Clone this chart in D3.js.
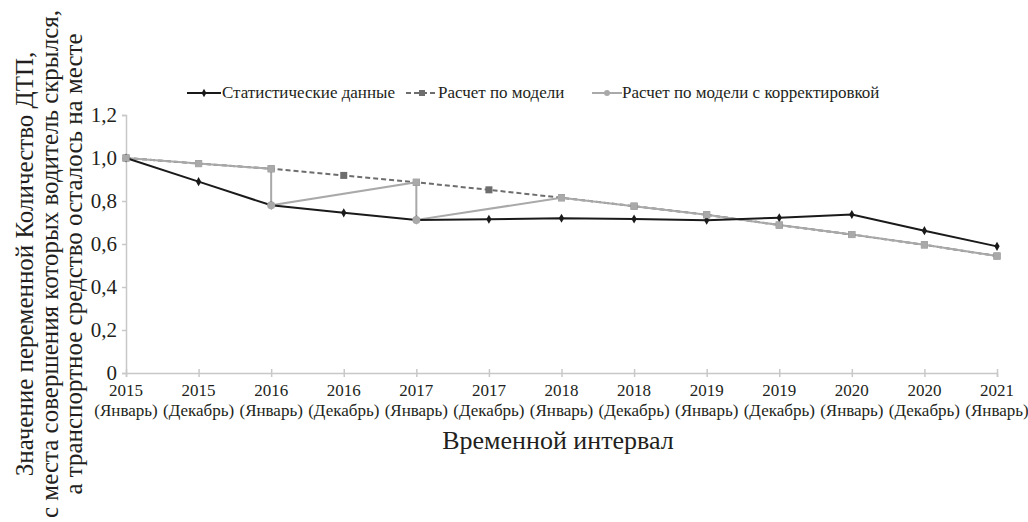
<!DOCTYPE html>
<html><head><meta charset="utf-8">
<script src="https://cdn.jsdelivr.net/npm/d3@7"></script>
<style>body{margin:0;background:#fff}svg{display:block}svg text,svg tspan{font-family:"Liberation Serif","Times New Roman",Tinos,serif}</style>
</head><body><svg id="c" width="1028" height="522" font-family="Liberation Serif"></svg>
<script>
const tickYears = ["2015","2015","2016","2016","2017","2017","2018","2018","2019","2019","2020","2020","2021"];
const tickMonths = ["(Январь)","(Декабрь)","(Январь)","(Декабрь)","(Январь)","(Декабрь)","(Январь)","(Декабрь)","(Январь)","(Декабрь)","(Январь)","(Декабрь)","(Январь)"];
const statValues = [1.0,0.89,0.78,0.745,0.712,0.715,0.72,0.716,0.711,0.722,0.737,0.662,0.589];
const modelValues = [1.0,0.974,0.95,0.919,0.887,0.852,0.815,0.776,0.736,0.688,0.644,0.596,0.544];
const correctedIdx = [0,1,2,2,4,4,6,7,8,9,10,11,12];
const correctedValues = [1.0,0.974,0.95,0.78,0.887,0.712,0.815,0.776,0.736,0.688,0.644,0.596,0.544];
const yTicks = [0,0.2,0.4,0.6,0.8,1.0,1.2];
const seriesNames = ["Статистические данные","Расчет по модели","Расчет по модели с корректировкой"];
const yTitle = ["Значение переменной Количество ДТП,","с места совершения которых водитель скрылся,","а транспортное средство осталось на месте"];
const xTitle = "Временной интервал";

const FONT = '"Liberation Serif","Times New Roman",Tinos,serif';
const TXT = "#231f20";
const svg = d3.select("#c");
const idx = d3.range(tickYears.length);
const x = d3.scalePoint().domain(idx).range([126,997]);
const y = d3.scaleLinear().domain([0,1.2]).range([373,115]);
const axisColor = "#c8c8c8";

// y axis
const ya = svg.append("g").attr("transform","translate(126,0)")
  .call(d3.axisLeft(y).tickValues(yTicks).tickSize(4).tickPadding(5)
  .tickFormat(d => d===0 ? "0" : d3.format(".1f")(d).replace(".",",")));
ya.attr("font-family",null);
ya.select(".domain").attr("stroke",axisColor).attr("stroke-width",1.5);
ya.selectAll(".tick line").attr("stroke",axisColor).attr("stroke-width",1.5);
ya.selectAll(".tick text").attr("font-size",21).attr("fill",TXT);

// x axis
const xa = svg.append("g").attr("transform","translate(0,373)")
  .call(d3.axisBottom(x).tickSize(4).tickFormat(""));
xa.attr("font-family",null);
xa.select(".domain").attr("stroke",axisColor).attr("stroke-width",1.5);
xa.selectAll(".tick line").attr("stroke",axisColor).attr("stroke-width",1.5).attr("y1",-4);
const xl = svg.append("g").selectAll("text").data(idx).join("text")
  .attr("x", d => x(d)).attr("text-anchor","middle").attr("font-size",17).attr("fill",TXT);
xl.append("tspan").attr("x",d=>x(d)).attr("y",396).text(d=>tickYears[d]);
xl.append("tspan").attr("x",d=>x(d)).attr("y",416).text(d=>tickMonths[d]);

svg.append("text").attr("x",558).attr("y",449).attr("text-anchor","middle")
  .attr("font-size",26).attr("fill",TXT).text(xTitle);

const yt = svg.append("text").attr("transform","translate(0,264) rotate(-90)")
  .attr("text-anchor","middle").attr("font-size",25).attr("fill",TXT);
[33,58,82].forEach((bx,i)=>{ yt.append("tspan").attr("x",0).attr("y",bx).text(yTitle[i]); });

// lines
const line = d3.line().x(d=>x(d[0])).y(d=>y(d[1]));
const statPts = idx.map(i=>[i,statValues[i]]);
const modelPts = idx.map(i=>[i,modelValues[i]]);
const corrPts = correctedIdx.map((i,k)=>[i,correctedValues[k]]);
const cStat="#1a1a1a", cModel="#6d6d6d", cCorr="#a9a9a9";

svg.append("path").attr("d",line(modelPts)).attr("fill","none").attr("stroke",cModel).attr("stroke-width",2).attr("stroke-dasharray","5,3");
svg.append("path").attr("d",line(corrPts)).attr("fill","none").attr("stroke",cCorr).attr("stroke-width",2);
svg.append("path").attr("d",line(statPts)).attr("fill","none").attr("stroke",cStat).attr("stroke-width",2);

svg.append("g").selectAll("rect").data(modelPts).join("rect")
  .attr("x",d=>x(d[0])-3.5).attr("y",d=>y(d[1])-3.5).attr("width",7).attr("height",7).attr("fill",cModel);
svg.append("g").selectAll("path").data(statPts).join("path")
  .attr("transform",d=>`translate(${x(d[0])},${y(d[1])})`)
  .attr("d",d3.symbol(d3.symbolDiamond,24)).attr("fill",cStat);
const corrG = svg.append("g");
corrPts.forEach(d=>{
  const isModel = Math.abs(modelValues[d[0]]-d[1])<1e-9;
  if(isModel) corrG.append("rect").attr("x",x(d[0])-3.5).attr("y",y(d[1])-3.5).attr("width",7).attr("height",7).attr("fill",cCorr);
  else corrG.append("circle").attr("cx",x(d[0])).attr("cy",y(d[1])).attr("r",4).attr("fill",cCorr);
});

// legend
const lg = svg.append("g");
const legendItems = [
  {x0:187,x1:221,tx:222,color:cStat,dash:null,mk:"diamond"},
  {x0:406,x1:438,tx:438,color:cModel,dash:"5,3",mk:"square"},
  {x0:592,x1:622,tx:622,color:cCorr,dash:null,mk:"circle"}
];
legendItems.forEach((it,i)=>{
  const ly=93;
  lg.append("line").attr("x1",it.x0).attr("x2",it.x1).attr("y1",ly).attr("y2",ly).attr("stroke",it.color).attr("stroke-width",2).attr("stroke-dasharray",it.dash);
  const cx=(it.x0+it.x1)/2;
  if(it.mk==="diamond") lg.append("path").attr("transform",`translate(${cx},${ly})`).attr("d",d3.symbol(d3.symbolDiamond,20)).attr("fill",it.color);
  if(it.mk==="square") lg.append("rect").attr("x",cx-3).attr("y",ly-3).attr("width",6).attr("height",6).attr("fill",it.color);
  if(it.mk==="circle") lg.append("circle").attr("cx",cx).attr("cy",ly).attr("r",3).attr("fill",it.color);
  lg.append("text").attr("x",it.tx).attr("y",ly+5).attr("font-size",17).attr("fill",TXT).text(seriesNames[i]);
});
svg.selectAll("text, tspan").style("font-family",FONT);
</script></body></html>
